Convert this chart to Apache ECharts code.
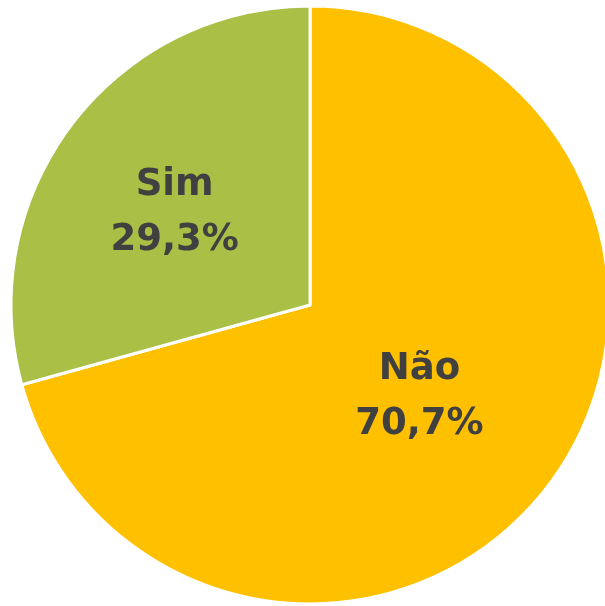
<!DOCTYPE html>
<html>
<head>
<meta charset="utf-8">
<script src="https://cdn.jsdelivr.net/npm/echarts@6/dist/echarts.min.js"></script>
<style>
  html, body { margin: 0; padding: 0; background: #fff; }
  #chart { width: 605px; height: 606px; }
</style>
</head>
<body>
<div id="chart"></div>
<script>
var categories = ['Não', 'Sim']
var values = [70.7, 29.3]
var colors = ['#FFC000', '#AABF46']
var labelOffsets = [[-12, 0], [-14, 0]]

var chart = echarts.init(document.getElementById('chart'))

var pieData = categories.map(function (name, i) {
  return {
    name: name,
    value: values[i],
    itemStyle: { color: colors[i] },
    label: { offset: labelOffsets[i] }
  }
})

chart.setOption({
  animation: false,
  series: [{
    type: 'pie',
    center: [310, 305],
    radius: 299,
    startAngle: 90,
    clockwise: true,
    itemStyle: {
      borderColor: '#ffffff',
      borderWidth: 3
    },
    label: {
      show: true,
      position: 'inside',
      color: '#404040',
      fontFamily: 'DejaVu Sans',
      fontWeight: 'bold',
      fontSize: 37,
      lineHeight: 55,
      formatter: function (p) {
        return p.name + '\n' + p.value.toFixed(1).replace('.', ',') + '%'
      }
    },
    labelLine: { show: false },
    data: pieData
  }]
})
</script>
</body>
</html>
